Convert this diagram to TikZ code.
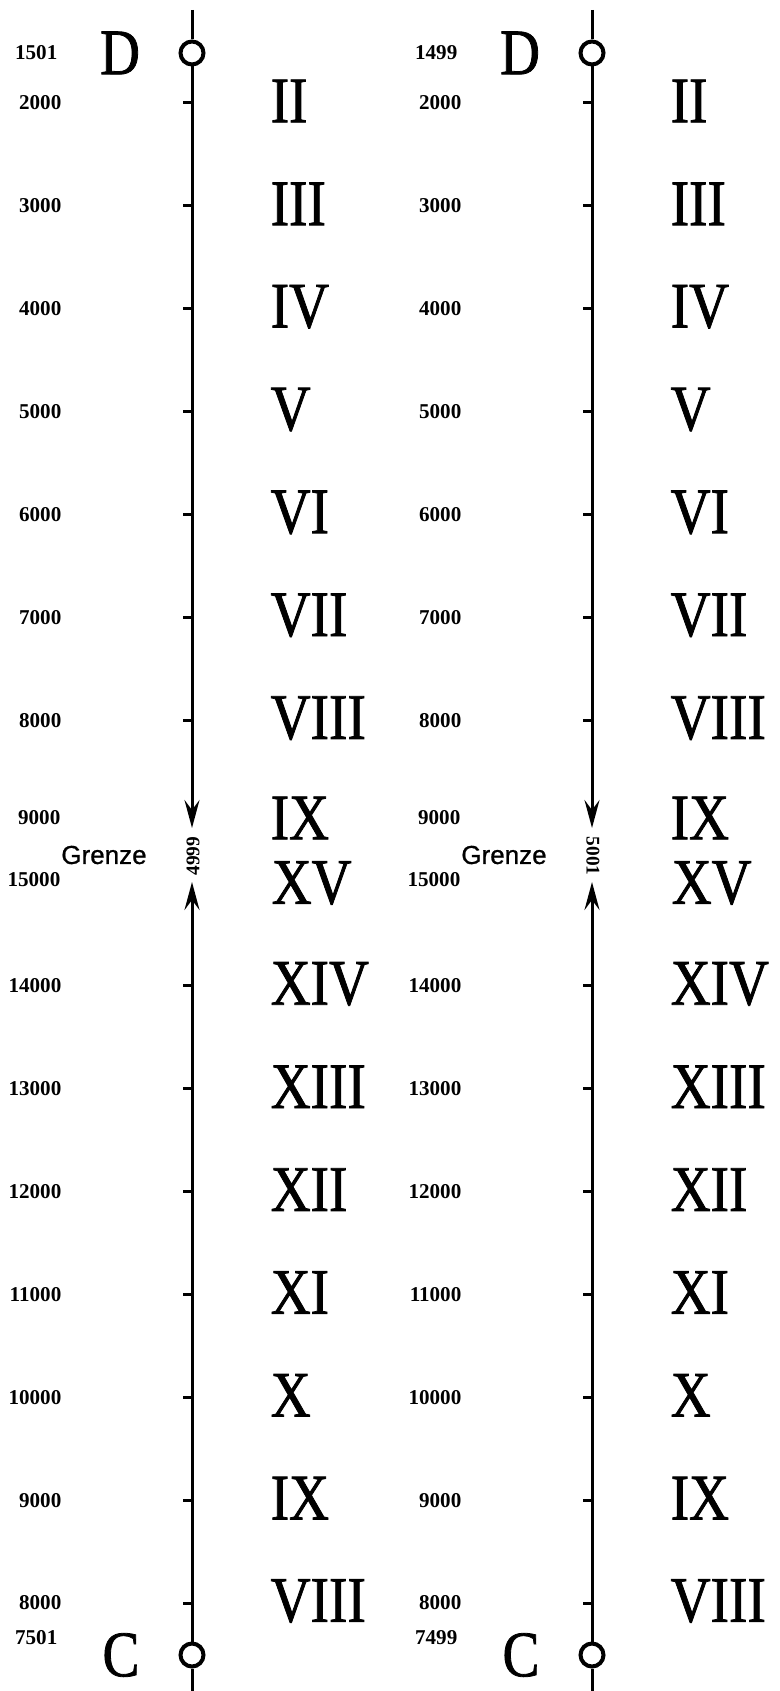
\documentclass[tikz,border=0pt]{standalone}
\usepackage{fontspec}
\setmainfont{Liberation Serif}
\newfontfamily\romfont{Liberation Serif}[FakeStretch=0.85, FakeBold=1.2]
\newfontfamily\grenzefont{Liberation Sans}[FakeBold=0.8]
\usetikzlibrary{math}
\usetikzlibrary{calc}
\usetikzlibrary{positioning}
\usetikzlibrary{arrows.meta}

\tikzset{
  roman/.style={anchor=west, inner sep=0pt, font={\romfont\fontsize{18.5}{20}\selectfont}},
  endletter/.style={inner sep=0pt, font={\romfont\fontsize{18.5}{20}\selectfont}},
  value/.style={anchor=east, inner sep=0pt, font={\bfseries\fontsize{6}{7}\selectfont}},
  limitval/.style={inner sep=0pt, font={\bfseries\fontsize{5.5}{6}\selectfont}},
  border/.style={inner sep=0pt, font={\grenzefont\fontsize{7.4}{9}\selectfont}},
  ring/.style={circle, draw, line width=0.4mm, minimum size=2.3mm, inner sep=0pt, fill=white},
  scaleline/.style={line width=0.3mm},
  tip/.style={-{Stealth[length=2.8mm,width=1.5mm,inset=1mm]}},
}

\begin{document}
\begin{tikzpicture}[x=0.1mm,y=-0.1mm]

  \tikzmath{
    \gap  = 102.85; % distance between two ticks
    \xl   = 192;    % x of the scale line
    \tick = 9;      % length of a tick
  }

  \useasboundingbox (0,0) rectangle (779,1691);

  \foreach \col/\startnum/\endnum/\limnum/\rot [count=\c] in
    {0/1501/7501/4999/90, 400/1499/7499/5001/-90} {

    % scale line with end rings and arrows towards the limit
    \coordinate (top\c) at (\xl+\col, 10);
    \node[ring] (D\c) at (\xl+\col, 53) {};
    \coordinate (down\c) at (\xl+\col, 828);
    \coordinate (up\c) at (\xl+\col, 882);
    \node[ring] (C\c) at (\xl+\col, 1655) {};
    \coordinate (bot\c) at (\xl+\col, 1691);

    \draw[scaleline] (top\c) -- (D\c);
    \draw[scaleline, tip] (D\c) -- (down\c);
    \draw[scaleline, tip] (C\c) -- (up\c);
    \draw[scaleline] (C\c) -- (bot\c);

    % end points
    \node[endletter] (Dl\c) at (120+\col, 53) {D};
    \node[endletter] (Cl\c) at (121+\col, 1655) {C};
    \node[value] (s\c) at (58+\col, 53) {\startnum};
    \node[value] (e\c) at (58+\col, 1638) {\endnum};

    % upper part
    \foreach \k/\num/\rom in {0/2000/II, 1/3000/III, 2/4000/IV, 3/5000/V,
                             4/6000/VI, 5/7000/VII, 6/8000/VIII} {
      \coordinate (u\c\k) at (\xl+\col, 103+\k*\gap);
      \draw[scaleline] (u\c\k) -- ++(-\tick, 0);
      \node[value] (un\c\k) at (62+\col, 103+\k*\gap) {\num};
      \node[roman] (ur\c\k) at (270+\col, 101+\k*\gap) {\rom};
    }

    % lower part
    \foreach \k/\num/\rom in {0/8000/VIII, 1/9000/IX, 2/10000/X, 3/11000/XI,
                             4/12000/XII, 5/13000/XIII, 6/14000/XIV} {
      \coordinate (l\c\k) at (\xl+\col, 1603-\k*\gap);
      \draw[scaleline] (l\c\k) -- ++(-\tick, 0);
      \node[value] (ln\c\k) at (62+\col, 1603-\k*\gap) {\num};
      \node[roman] (lr\c\k) at (270+\col, 1601-\k*\gap) {\rom};
    }

    % limit
    \node[value] (m\c) at (61+\col, 818) {9000};
    \node[roman] (mr\c) at (270+\col, 818) {IX};
    \node[border] (g\c) at (104+\col, 855) {Grenze};
    \node[value] (n\c) at (61+\col, 880) {15000};
    \node[roman] (nr\c) at (271+\col, 883) {XV};
    \node[limitval, rotate=\rot] (lim\c) at (\xl+1+\col, 856) {\limnum};
  }

\end{tikzpicture}
\end{document}
